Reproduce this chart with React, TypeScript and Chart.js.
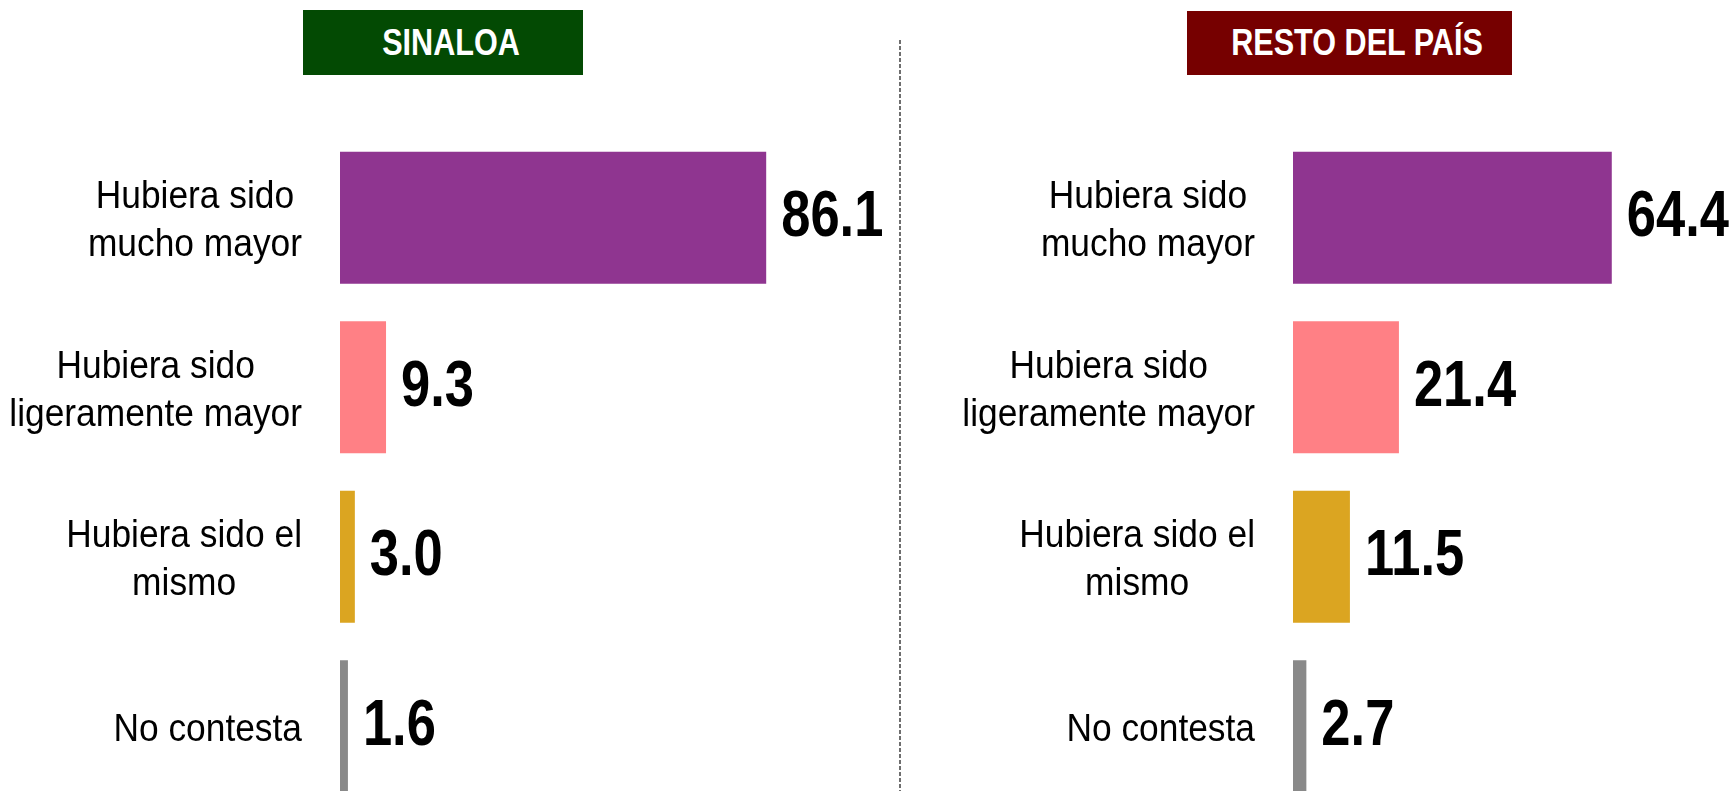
import React, { useEffect, useRef } from "react";
import { Chart, registerables } from "chart.js";

Chart.register(...registerables);

// ---- Data ----
const categories: string[][] = [
  ["Hubiera sido", "mucho mayor"],
  ["Hubiera sido", "ligeramente mayor"],
  ["Hubiera sido el", "mismo"],
  ["No contesta"],
];
const sinaloaValues: number[] = [86.1, 9.3, 3.0, 1.6];
const restoValues: number[] = [64.4, 21.4, 11.5, 2.7];
const barColors: string[] = ["#8F3590", "#FF8085", "#DBA521", "#898989"];
const panelTitles: string[] = ["SINALOA", "RESTO DEL PAÍS"];

const LABEL_FONT = '"Liberation Sans", Arial, sans-serif';

const labelPlugin = {
  id: "customLabels",
  afterDatasetsDraw(chart: any) {
    const { ctx, chartArea } = chart;
    const yScale = chart.scales.y;
    const meta = chart.getDatasetMeta(0);
    const values: number[] = chart.data.datasets[0].data;
    categories.forEach((lines, i) => {
      const yc = yScale.getPixelForValue(i);
      // category label (block right-aligned, lines centered)
      ctx.save();
      ctx.font = `38px ${LABEL_FONT}`;
      ctx.fillStyle = "#000";
      ctx.textBaseline = "middle";
      ctx.textAlign = "center";
      const sx = 0.93;
      const widths = lines.map((l) => ctx.measureText(l).width * sx);
      const widest = Math.max(...widths);
      const right = chartArea.left - 38;
      const cx = right - widest / 2;
      const lh = 48;
      const off = lines.length > 1 ? 4 : 4;
      lines.forEach((l, j) => {
        const y = yc + off + (j - (lines.length - 1) / 2) * lh;
        ctx.save();
        ctx.translate(cx, y);
        ctx.scale(sx, 1);
        ctx.fillText(l, 0, 0);
        ctx.restore();
      });
      ctx.restore();

      // value label
      const bar = meta.data[i];
      ctx.save();
      ctx.font = `bold 64px ${LABEL_FONT}`;
      ctx.fillStyle = "#000";
      ctx.textBaseline = "middle";
      ctx.textAlign = "left";
      ctx.translate(bar.x + 15, yc + 1);
      ctx.scale(0.82, 1);
      ctx.fillText(values[i].toFixed(1), 0, 0);
      ctx.restore();
    });
  },
};

function Panel({ values, left, padLeft }: { values: number[]; left: number; padLeft: number }) {
  const ref = useRef<HTMLCanvasElement | null>(null);
  useEffect(() => {
    if (!ref.current) return;
    const chart = new Chart(ref.current, {
      type: "bar",
      data: {
        labels: categories.map((c) => c.join(" ")),
        datasets: [
          {
            data: values,
            backgroundColor: barColors,
            borderWidth: 0,
            barPercentage: 0.78,
            categoryPercentage: 1,
          },
        ],
      },
      options: {
        indexAxis: "y",
        responsive: false,
        animation: false,
        events: [],
        layout: { padding: { left: padLeft, right: 900 - padLeft - 495, top: 133, bottom: 19 } },
        scales: {
          x: { display: false, min: 0, max: 100 },
          y: { display: false },
        },
        plugins: { legend: { display: false }, tooltip: { enabled: false } },
      },
      plugins: [labelPlugin],
    } as any);
    return () => chart.destroy();
  }, []);
  return (
    <canvas
      ref={ref}
      width={900}
      height={830}
      style={{ position: "absolute", left, top: 0, width: 900, height: 830, display: "block" }}
    />
  );
}

function Header({ text, left, top, width, height, bg }: any) {
  return (
    <div
      style={{
        position: "absolute",
        left,
        top,
        width,
        height,
        background: bg,
        display: "flex",
        alignItems: "center",
        justifyContent: "center",
        paddingLeft: 15,
        boxSizing: "border-box",
      }}
    >
      <span
        style={{
          display: "inline-block",
          color: "#fff",
          fontFamily: LABEL_FONT,
          fontWeight: "bold",
          fontSize: 36,
          lineHeight: 1,
          transform: "scaleX(0.85)",
          whiteSpace: "nowrap",
        }}
      >
        {text}
      </span>
    </div>
  );
}

export default function App() {
  return (
    <div
      style={{
        position: "fixed",
        left: 0,
        top: 0,
        width: 1733,
        height: 791,
        overflow: "hidden",
        background: "#fff",
      }}
    >
      <Panel values={sinaloaValues} left={0} padLeft={340} />
      <Panel values={restoValues} left={901} padLeft={392} />
      <div
        style={{
          position: "absolute",
          left: 899,
          top: 40,
          width: 2,
          height: 751,
          background: "repeating-linear-gradient(to bottom, #6e6e6e 0px, #6e6e6e 4px, transparent 4px, transparent 6px)",
        }}
      />
      <Header text={panelTitles[0]} left={303} top={10} width={280} height={65} bg="#034A03" />
      <Header text={panelTitles[1]} left={1187} top={11} width={325} height={64} bg="#760000" />
    </div>
  );
}
